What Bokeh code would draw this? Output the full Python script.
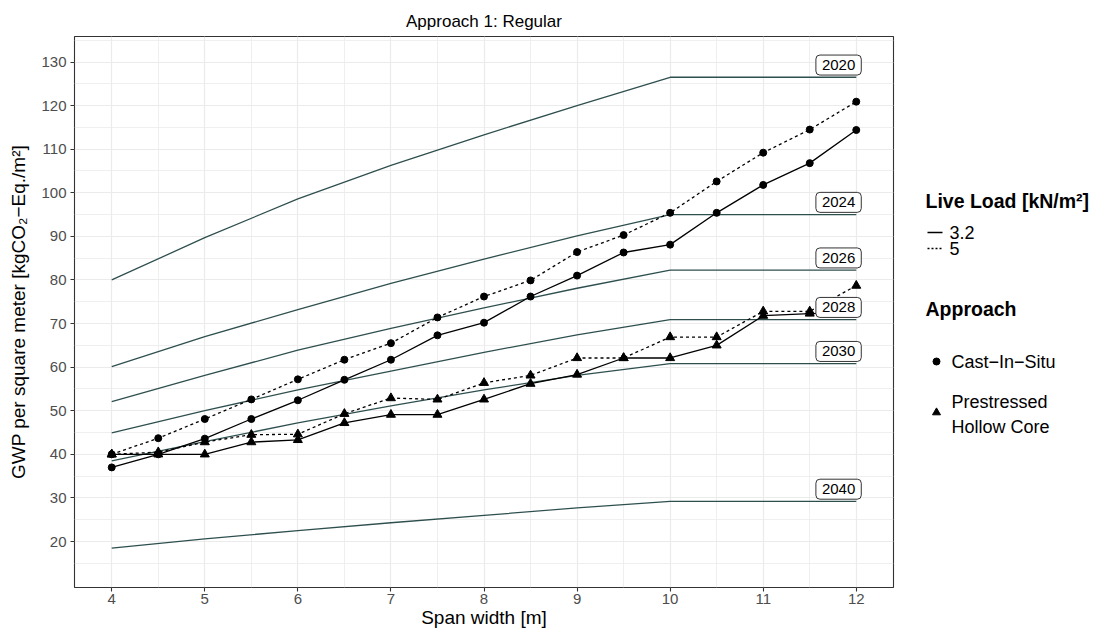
from bokeh.plotting import figure
from bokeh.models import Range1d, FixedTicker
from bokeh.layouts import row
from bokeh.embed import file_html
from bokeh.resources import INLINE
from bokeh.core.properties import value

# ---------------- data ----------------
span = [4.0, 4.5, 5.0, 5.5, 6.0, 6.5, 7.0, 7.5, 8.0, 8.5, 9.0, 9.5, 10.0, 10.5, 11.0, 11.5, 12.0]
cis_32 = [37.0, 40.0, 43.6, 48.1, 52.4, 57.1, 61.7, 67.3, 70.2, 76.2, 81.0, 86.3, 88.1, 95.4, 101.8, 106.8, 114.4]
cis_5 = [40.0, 43.7, 48.1, 52.6, 57.2, 61.7, 65.5, 71.4, 76.2, 79.9, 86.4, 90.3, 95.4, 102.6, 109.2, 114.5, 120.9]
phc_32 = [40.0, 40.0, 40.0, 42.8, 43.3, 47.2, 49.1, 49.1, 52.6, 56.2, 58.3, 62.1, 62.1, 65.0, 71.8, 72.3, 72.5]
phc_5 = [40.0, 40.5, 42.8, 44.5, 44.6, 49.3, 52.9, 52.6, 56.4, 58.1, 62.1, 62.1, 66.9, 66.9, 72.8, 72.8, 78.7]

limit_x = [4, 5, 6, 7, 8, 9, 10, 12]
years = ["2020", "2024", "2026", "2028", "2030", "2040"]
limit_2020 = [80.0, 89.7, 98.6, 106.3, 113.3, 120.0, 126.5, 126.5]
limit_2024 = [60.1, 67.0, 73.2, 79.2, 84.8, 90.1, 95.0, 95.0]
limit_2026 = [52.1, 58.1, 63.9, 68.9, 73.6, 78.1, 82.25, 82.25]
limit_2028 = [44.9, 50.0, 54.8, 59.1, 63.4, 67.4, 70.9, 70.9]
limit_2030 = [38.5, 42.9, 47.2, 51.1, 54.8, 58.1, 60.8, 60.8]
limit_2040 = [18.5, 20.6, 22.5, 24.3, 26.0, 27.7, 29.2, 29.2]

x_ticks = [4, 5, 6, 7, 8, 9, 10, 11, 12]
y_ticks = [20, 30, 40, 50, 60, 70, 80, 90, 100, 110, 120, 130]

load_labels = ["3.2", "5"]
approach_labels = ["Cast\u2212In\u2212Situ", "Prestressed\nHollow Core"]

# ---------------- style ----------------
FONT = "Liberation Sans"
GREEN = "#2F4F4F"
GRID = "#EBEBEB"
DARK = "#333333"

H = 632
FRAME_TOP, FRAME_BOTTOM = 36, 587

p = figure(width=905, height=H,
           x_range=Range1d(3.6, 12.4), y_range=Range1d(9.45, 135.85),
           output_backend="svg", toolbar_location=None,
           min_border_left=74, min_border_right=12,
           min_border_top=FRAME_TOP, min_border_bottom=H - FRAME_BOTTOM,
           title="Approach 1: Regular")
p.background_fill_color = "white"
p.border_fill_color = "white"
p.outline_line_color = DARK
p.outline_line_width = 1.1

p.title.align = "center"
p.title.text_font = FONT
p.title.text_font_size = "17px"
p.title.text_font_style = "normal"
p.title.text_color = "black"
p.title.standoff = 12

p.xaxis.ticker = FixedTicker(ticks=x_ticks, minor_ticks=[t + 0.5 for t in x_ticks[:-1]])
p.yaxis.ticker = FixedTicker(ticks=y_ticks, minor_ticks=[t + 5 for t in [10] + y_ticks])

for ax in (p.xaxis, p.yaxis):
    ax.axis_line_color = None
    ax.major_tick_line_color = DARK
    ax.major_tick_line_width = 1.1
    ax.major_tick_out = 4
    ax.major_tick_in = 0
    ax.minor_tick_out = 0
    ax.minor_tick_in = 0
    ax.major_label_text_font = FONT
    ax.major_label_text_font_size = "15px"
    ax.major_label_text_color = "#4D4D4D"
    ax.axis_label_text_font = FONT
    ax.axis_label_text_font_size = "19px"
    ax.axis_label_text_font_style = "normal"
    ax.axis_label_text_color = "black"

p.xaxis.major_label_standoff = 2
p.xaxis.axis_label_standoff = 0
p.yaxis.major_label_standoff = 4
p.yaxis.axis_label_standoff = 9

p.xaxis.axis_label = "Span width [m]"
p.yaxis.axis_label = "GWP per square meter [kgCO\u2082\u2212Eq./m\u00b2]"

p.xgrid.grid_line_color = GRID
p.ygrid.grid_line_color = GRID
p.xgrid.grid_line_width = 1.2
p.ygrid.grid_line_width = 1.2
p.xgrid.minor_grid_line_color = GRID
p.ygrid.minor_grid_line_color = GRID
p.xgrid.minor_grid_line_width = 0.8
p.ygrid.minor_grid_line_width = 0.8

limits = [limit_2020, limit_2024, limit_2026, limit_2028, limit_2030, limit_2040]
for vals in limits:
    p.line(limit_x, vals, line_color=GREEN, line_width=1.3)

series = [(cis_32, "solid", "circle", 7),
          (cis_5, "3 3", "circle", 7),
          (phc_32, "solid", "triangle", 9),
          (phc_5, "3 3", "triangle", 9)]
for vals, dash, marker, size in series:
    p.line(span, vals, line_color="black", line_width=1.3, line_dash=dash)
    p.scatter(span, vals, marker=marker, size=size, fill_color="black", line_color="black")

label_y = [vals[-1] + 2.8 for vals in limits]
p.text(x=[limit_x[-1]] * len(years), y=label_y, text=years,
       text_align="right", text_baseline="middle", x_offset=5,
       text_font=value(FONT), text_font_size="15px", text_color="black",
       background_fill_color="white", border_line_color=DARK, border_line_width=1,
       padding={"x": 6, "y": 5}, border_radius=4)

# ---------------- legend panel ----------------
LW = 200
lg = figure(width=LW, height=H, x_range=Range1d(0, LW), y_range=Range1d(FRAME_BOTTOM, FRAME_TOP),
            output_backend="svg", toolbar_location=None,
            min_border_left=0, min_border_right=0,
            min_border_top=FRAME_TOP, min_border_bottom=H - FRAME_BOTTOM,
            x_axis_type=None, y_axis_type=None, outline_line_color=None)
lg.background_fill_color = "white"
lg.border_fill_color = "white"

lg.text(x=[20], y=[200], text=["Live Load [kN/m\u00b2]"], text_font=value(FONT),
        text_font_size="19.5px", text_font_style="bold", text_baseline="middle", text_color="black")
lg.line([22, 37], [232, 232], line_color="black", line_width=1.3)
lg.line([22, 37], [248, 248], line_color="black", line_width=1.3, line_dash="2 2")
lg.text(x=[44, 44], y=[232, 248], text=load_labels, text_font=value(FONT),
        text_font_size="18px", text_baseline="middle", text_color="black")

lg.text(x=[20], y=[308], text=["Approach"], text_font=value(FONT),
        text_font_size="19.5px", text_font_style="bold", text_baseline="middle", text_color="black")
lg.scatter([31], [361], marker="circle", size=7, fill_color="black", line_color="black")
lg.scatter([31], [412], marker="triangle", size=8, fill_color="black", line_color="black")
lg.text(x=[46, 46], y=[361, 414], text=approach_labels, text_font=value(FONT),
        text_font_size="18px", text_baseline="middle", text_color="black",
        text_line_height=1.22)

layout = row(p, lg)
open("out.html", "w").write(file_html(layout, INLINE))
